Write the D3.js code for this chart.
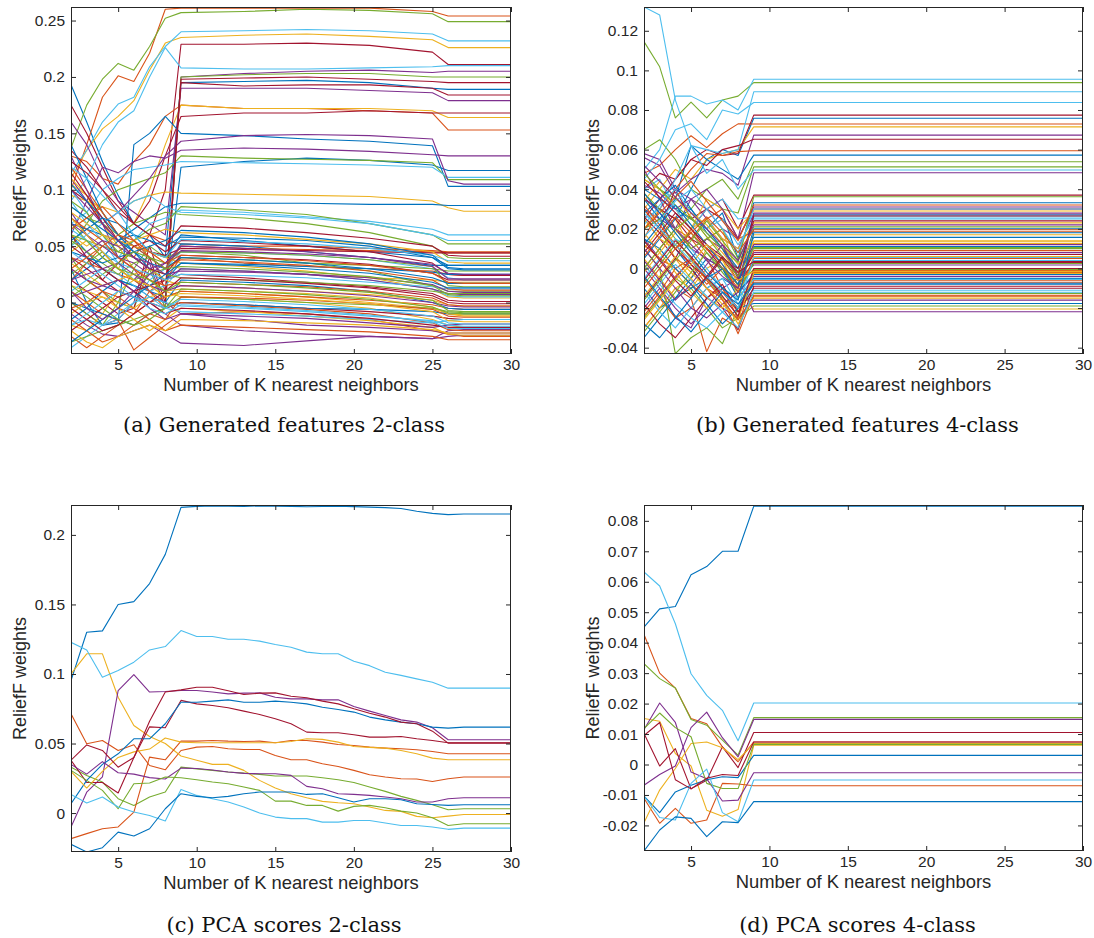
<!DOCTYPE html>
<html>
<head>
<meta charset="utf-8">
<script src="https://cdn.jsdelivr.net/npm/d3@7"></script>
<style>
  html, body { margin: 0; padding: 0; background: #fff; }
  svg { display: block; }
</style>
</head>
<body>
<svg id="fig" width="1094" height="938"></svg>
<script>
(function () {
    "use strict";

    // K values (x) for each panel; weights are stored x1000
    const kA = [2, 3, 4, 5, 6, 7, 8, 9, 13, 17, 21, 25, 26, 27, 30];
    const kB = [2, 3, 4, 5, 6, 7, 8, 9, 30];
    const kC = [2, 3, 4, 5, 6, 7, 8, 9, 10, 11, 12, 13, 14, 15, 16, 17, 18, 19, 20, 21, 22, 23, 24, 25, 26, 27, 28, 29, 30];
    const kD = [2, 3, 4, 5, 6, 7, 8, 9, 30];

    const kTicks = [5, 10, 15, 20, 25, 30];
    const yTicksA = [0, 0.05, 0.1, 0.15, 0.2, 0.25];
    const yTicksB = [-0.04, -0.02, 0, 0.02, 0.04, 0.06, 0.08, 0.1, 0.12];
    const yTicksC = [0, 0.05, 0.1, 0.15, 0.2];
    const yTicksD = [-0.02, -0.01, 0, 0.01, 0.02, 0.03, 0.04, 0.05, 0.06, 0.07, 0.08];

    const captions = [
        "(a) Generated features 2-class",
        "(b) Generated features 4-class",
        "(c) PCA scores 2-class",
        "(d) PCA scores 4-class"
    ];

    // (a) generated features, 2-class
    const weightsA = [
        [193, 160, 125, 95, 70, 60, 40, 195, 196, 197, 195, 190, 189, 189, 189],
        [100, 140, 182, 201, 196, 221, 260, 261, 261, 261, 261, 258, 254, 254, 254],
        [110, 135, 154, 165, 179, 206, 230, 235, 237, 238, 236, 233, 226, 226, 226],
        [80, 60, 45, 30, 20, 35, -5, 200, 203, 205, 206, 204, 205, 205, 205],
        [137, 175, 198, 212, 206, 227, 252, 257, 258, 260, 259, 256, 249, 249, 249],
        [115, 135, 160, 176, 182, 209, 227, 240, 241, 242, 241, 238, 232, 232, 232],
        [175, 150, 120, 90, 70, 60, 100, 229, 229, 230, 228, 222, 211, 211, 211],
        [60, 45, 30, 20, 15, 10, 5, 120, 125, 128, 126, 122, 117, 117, 117],
        [130, 125, 110, 105, 125, 140, 165, 175, 172, 172, 170, 168, 153, 153, 153],
        [105, 95, 80, 60, 70, 100, 140, 175, 172, 172, 172, 170, 164, 164, 164],
        [160, 140, 110, 90, 80, 70, 60, 190, 190, 190, 188, 186, 179, 179, 179],
        [40, 20, 10, 0, -5, 30, -5, 200, 202, 203, 203, 200, 200, 200, 200],
        [90, 110, 140, 160, 170, 200, 226, 208, 207, 207, 208, 209, 210, 210, 210],
        [135, 120, 100, 80, 70, 90, 130, 165, 168, 168, 170, 168, 168, 168, 168],
        [30, 0, -20, -18, 140, 150, 165, 150, 148, 145, 143, 139, 103, 103, 103],
        [20, 35, 50, 45, 40, 60, 55, 52, 50, 50, 48, 46, 45, 45, 45],
        [95, 90, 85, 80, 90, 95, 98, 97, 96, 95, 94, 90, 84, 81, 81],
        [60, 90, 120, 115, 125, 130, 128, 135, 137, 136, 134, 131, 130, 130, 130],
        [50, 70, 90, 100, 105, 110, 115, 130, 128, 127, 126, 124, 109, 109, 109],
        [70, 80, 100, 110, 118, 120, 122, 125, 124, 123, 122, 120, 111, 111, 111],
        [20, 10, 0, -10, -5, 40, 0, 195, 192, 193, 193, 190, 184, 184, 184],
        [70, 65, 60, 55, 65, 75, 85, 88, 88, 88, 87, 87, 86, 86, 86],
        [30, 20, 10, -5, -10, 10, 20, 40, 35, 32, 30, 28, 25, 24, 24],
        [45, 55, 40, 30, 50, 45, 35, 30, 28, 25, 22, 20, 18, 18, 18],
        [110, 90, 70, 80, 95, 110, 130, 143, 148, 149, 148, 145, 108, 105, 105],
        [85, 75, 70, 60, 70, 75, 80, 78, 75, 70, 62, 50, 40, 39, 39],
        [100, 80, 60, 40, 55, 70, 75, 82, 80, 76, 72, 65, 60, 60, 60],
        [0, -10, -20, -15, 0, 50, 10, 198, 199, 200, 198, 196, 195, 195, 195],
        [140, 110, 80, 60, 50, 40, 30, 52, 50, 45, 40, 33, 33, 33, 33],
        [10, 0, -10, -16, -42, -31, -20, -10, -8, -10, -15, -25, -28, -30, -30],
        [110, 95, 70, 50, 30, 20, 10, 5, 3, 0, -5, -15, -20, -22, -22],
        [-10, -20, -28, -30, -25, -20, -28, -36, -38, -34, -30, -32, -25, -24, -24],
        [0, -10, -20, 0, 30, 50, 40, 45, 42, 35, 28, 15, 10, 10, 10],
        [-40, -30, -20, -15, 0, 20, 30, 45, 44, 42, 38, 30, 22, 20, 20],
        [60, 40, 20, 10, 5, 0, -5, 0, -2, -5, -8, -12, -14, -15, -15],
        [20, 30, 40, 55, 60, 45, 40, 60, 55, 50, 45, 40, 33, 33, 33],
        [120, 100, 80, 60, 50, 40, 30, 50, 48, 47, 46, 45, 44, 44, 44],
        [-20, -25, -10, 10, 20, 15, 5, 10, 8, 5, 0, -5, -10, -12, -12],
        [130, 100, 70, 40, 30, 10, 0, -10, -15, -20, -22, -25, -27, -27, -27],
        [70, 55, 50, 45, 55, 65, 70, 85, 82, 78, 70, 60, 52, 52, 52],
        [50, 60, 70, 80, 90, 95, 85, 80, 78, 75, 70, 60, 55, 55, 55],
        [100, 90, 70, 55, 50, 45, 42, 48, 47, 46, 45, 44, 44, 44, 44],
        [0, -5, -10, -15, -20, -10, -5, 0, -2, -5, -6, -8, -10, -10, -10],
        [-30, -40, -30, -20, -10, 0, 5, 10, 8, 5, 2, -2, -5, -6, -6],
        [60, 50, 60, 55, 50, 45, 40, 35, 32, 28, 22, 12, 5, 4, 4],
        [30, 20, 15, 10, 5, 0, -10, -20, -25, -28, -30, -32, -30, -29, -29],
        [-35, -30, -25, -20, -15, -10, -5, 5, 3, 0, -2, -5, -8, -9, -9],
        [90, 70, 55, 35, 20, 10, 15, 30, 28, 25, 20, 12, 6, 5, 5],
        [40, 30, 20, 35, 50, 55, 45, 55, 53, 50, 45, 35, 25, 24, 24],
        [-15, -5, 10, 20, 15, 5, 0, 20, 18, 15, 10, 0, -5, -6, -6],
        [40, 35, 30, 25, 20, 10, -5, 0, -3, -6, -10, -18, -24, -25, -25],
        [15, 10, 5, -5, -15, -25, -15, -5, -8, -12, -16, -22, -28, -29, -29],
        [70, 60, 50, 40, 35, 25, 20, 30, 28, 25, 20, 12, 8, 7, 7],
        [25, 35, 45, 30, 20, 25, 30, 40, 38, 35, 33, 30, 28, 28, 28],
        [10, 20, 30, 25, 15, 5, -5, -8, -10, -12, -15, -18, -16, -15, -15],
        [50, 40, 30, 20, 10, 15, 20, 25, 22, 18, 14, 8, 2, 1, 1],
        [105, 90, 75, 60, 45, 30, 20, 35, 34, 32, 30, 27, 25, 25, 25],
        [-5, 0, 10, 5, -5, -15, -25, -20, -22, -24, -26, -30, -33, -33, -33],
        [35, 25, 15, 20, 25, 30, 20, 15, 13, 10, 7, 2, -2, -3, -3],
        [5, 10, 15, 20, 10, -5, -15, -10, -12, -14, -18, -22, -20, -19, -19],
        [55, 45, 35, 25, 35, 40, 35, 45, 44, 42, 38, 32, 15, 14, 14],
        [65, 55, 45, 35, 30, 25, 20, 25, 24, 22, 18, 14, 12, 12, 12],
        [-25, -15, -5, 5, 10, 0, -10, -5, -7, -10, -14, -20, -22, -22, -22],
        [45, 40, 35, 40, 45, 35, 30, 40, 38, 35, 30, 22, 17, 17, 17],
        [75, 65, 55, 40, 30, 20, 15, 18, 16, 14, 10, 4, -2, -3, -3],
        [-10, 0, 5, 0, -5, 5, 10, 12, 10, 8, 4, -4, -10, -11, -11],
        [20, 25, 30, 35, 25, 15, 10, 15, 13, 10, 6, 0, -3, -4, -4],
        [90, 80, 60, 45, 40, 30, 25, 22, 20, 18, 15, 10, 8, 8, 8],
        [-20, -15, -20, -10, 0, 5, 0, -3, -5, -8, -12, -16, -20, -21, -21],
        [115, 95, 75, 55, 40, 30, 25, 42, 40, 38, 34, 26, 20, 20, 20],
        [55, 65, 75, 70, 60, 55, 50, 58, 57, 55, 50, 40, 30, 29, 29],
        [-15, -25, -35, -30, -20, -10, -15, 5, 4, 2, -1, -6, -12, -13, -13],
        [80, 70, 60, 50, 55, 60, 65, 62, 60, 56, 52, 45, 36, 35, 35],
        [35, 45, 55, 50, 40, 35, 25, 28, 27, 25, 22, 16, 10, 9, 9],
        [15, 5, -5, -15, -20, -15, -5, 12, 10, 7, 3, -4, -9, -10, -10],
        [120, 110, 95, 80, 60, 45, 40, 56, 54, 52, 48, 42, 37, 37, 37],
        [-5, -15, -25, -20, -10, 0, 10, 22, 20, 17, 13, 6, 0, -1, -1],
        [85, 75, 65, 55, 45, 50, 55, 64, 62, 58, 52, 42, 31, 30, 30],
        [65, 75, 85, 70, 55, 40, 30, 38, 36, 33, 28, 20, 12, 11, 11],
        [-25, -35, -40, -30, -25, -20, -25, -15, -16, -18, -20, -24, -27, -27, -27],
        [100, 85, 70, 55, 40, 30, 35, 46, 45, 43, 40, 34, 26, 25, 25],
        [5, 15, 25, 35, 45, 40, 30, 32, 30, 27, 23, 15, 7, 6, 6],
        [45, 35, 25, 15, 5, -5, -10, -2, -4, -7, -11, -17, -23, -23, -23],
        [125, 115, 100, 85, 70, 60, 50, 68, 66, 62, 57, 50, 42, 41, 41],
        [-35, -25, -15, -5, 5, 15, 25, 35, 33, 30, 26, 18, 13, 13, 13],
        [30, 40, 50, 60, 55, 45, 35, 42, 40, 37, 33, 26, 18, 17, 17],
        [75, 60, 45, 30, 20, 15, 5, 8, 6, 3, -1, -8, -16, -17, -17],
        [10, -5, -15, -5, 10, 25, 35, 50, 48, 45, 40, 32, 21, 21, 21],
        [60, 55, 40, 30, 25, 20, 10, 18, 16, 13, 9, 2, -7, -8, -8],
        [-20, -10, 0, 10, 5, 0, -5, 3, 1, -2, -6, -12, -18, -19, -19]
    ];

    // (b) generated features, 4-class
    const weightsB = [
        [35, 30, 25, 40, 55, 60, 57, 75.8, 75.8],
        [48, 52, 60, 67, 61, 68, 73, 72.9, 72.9],
        [30, 40, 50, 45, 55, 58, 60, 71.5, 71.5],
        [56, 52, 38, 45, 50, 48, 42, 67.3, 67.3],
        [114.5, 101.8, 76, 84, 76, 85, 87, 93.8, 93.8],
        [50, 60, 87, 87, 83, 85, 80, 95.5, 95.5],
        [40, 48, 45, 55, 60, 57, 58, 77.4, 77.4],
        [20, 25, 35, 62, 55, 50, 45, 57.2, 57.2],
        [15, 30, 40, 50, 58, 57, 59, 59.4, 59.4],
        [10, 20, 5, -5, 10, 15, -10, 12.6, 12.6],
        [58, 55, 40, 35, 30, 20, 15, 48.3, 48.3],
        [45, 40, 35, 30, 40, 45, 35, 53.9, 53.9],
        [132, 128, 85, 62, 60, 58, 60, 89.2, 89.2],
        [25, 35, 45, 55, 52, 60, 62, 65.2, 65.2],
        [40, 35, 30, 25, 20, 28, 5, 33.2, 33.2],
        [-30, -20, -10, -15, -42, -25, -30, -2, -2],
        [5, -5, -15, -10, 0, 5, -15, 6, 6],
        [30, 25, 20, 35, 25, 15, 10, 27.5, 27.5],
        [60, 65, 55, 40, 35, 30, 28, 51.3, 51.3],
        [45, 55, 70, 73, 65, 80, 78, 83.8, 83.8],
        [30, 20, 40, 25, 30, 35, 20, 37, 37],
        [-10, -20, -15, -5, 5, 0, -15, -5, -5],
        [0, 10, 20, 15, 5, -10, -20, -7, -7],
        [20, 30, 25, 10, 15, 20, -5, 14, 14],
        [-20, -10, -25, -30, -15, -20, -25, -16, -16],
        [10, 0, -43, -35, -30, -38, -20, -12.6, -12.6],
        [25, 30, 45, 62, 48, 55, 40, 49.7, 49.7],
        [25, 15, 5, 20, 30, 25, 15, 30, 30],
        [35, 25, 10, 0, -10, -5, -10, 11, 11],
        [-5, -15, -25, -20, -10, -15, -33, -13.5, -13.5],
        [45, 40, 30, 20, 25, 15, 10, 23, 23],
        [15, 5, -5, 5, 15, 10, -5, 8, 8],
        [-25, -15, -5, -10, -20, -30, -25, -19, -19],
        [40, 45, 30, 20, 30, 35, 25, 26, 26],
        [-15, -5, 5, 0, -10, -20, -31, -9, -9],
        [5, 15, 25, 30, 20, 10, 0, 15.7, 15.7],
        [30, 20, 10, 15, 25, 30, 15, 18.5, 18.5],
        [-30, -20, -10, -5, -15, -20, -10, -20.5, -20.5],
        [50, 35, 20, 10, 5, 0, -5, 1.7, 1.7],
        [20, 25, 15, 5, -5, -15, -20, -3, -3],
        [-5, 5, 15, 10, 0, -10, -15, 4, 4],
        [35, 30, 25, 15, 10, 5, 0, 24, 24],
        [-35, -25, -15, -10, -5, -12, -20, -17.7, -17.7],
        [12, 5, 0, -8, -15, -10, -25, -1, -1],
        [25, 15, 10, 20, 35, 30, 20, 29, 29],
        [0, -10, -20, -28, -20, -10, -5, -21.9, -21.9],
        [38, 30, 20, 10, 15, 20, 5, 10, 10],
        [-12, -22, -30, -20, -10, -5, -18, -11, -11],
        [8, 18, 28, 20, 10, 0, -8, 3, 3],
        [28, 35, 42, 30, 18, 10, -2, 27, 27],
        [-22, -12, 0, 5, -5, -12, -22, -6, -6],
        [18, 8, -2, -12, -20, -15, -28, -15, -15],
        [42, 38, 30, 35, 40, 30, 15, 31, 31],
        [-8, 2, 12, 18, 8, -2, -12, 2.5, 2.5],
        [22, 32, 40, 28, 20, 25, 12, 25, 25],
        [-18, -28, -35, -25, -15, -8, -22, -10, -10],
        [15, 10, 0, -8, -18, -28, -20, -8, -8],
        [32, 22, 12, 2, -8, 0, -10, 9, 9],
        [-2, 8, 18, 28, 22, 12, 2, 13.5, 13.5],
        [10, 0, -10, -20, -25, -18, -12, -4, -4],
        [48, 40, 32, 25, 18, 10, 3, 36.2, 36.2],
        [2, -8, -18, -25, -30, -22, -15, -5.5, -5.5],
        [26, 18, 10, 2, -5, 5, -6, 7, 7],
        [-28, -35, -25, -15, -5, 0, -12, -3, -3],
        [6, 16, 26, 18, 10, 2, -12, 5, 5],
        [-14, -4, 6, -2, -10, -18, -26, -2.5, -2.5],
        [36, 28, 20, 12, 4, -4, -10, 28, 28],
        [-32, -22, -12, -2, 8, 0, -8, -0.5, -0.5],
        [16, 24, 34, 40, 30, 20, 8, 30, 30],
        [-6, 4, 14, 6, -4, -14, -24, 0, 0],
        [12, 22, 32, 22, 12, 2, -8, 20, 20],
        [-24, -14, -4, 4, -6, -16, -26, -14, -14],
        [34, 44, 36, 26, 16, 8, -2, 17, 17],
        [4, -6, -16, -8, 2, 12, -4, 12, 12],
        [-16, -6, 4, 14, 24, 14, 4, 21, 21],
        [28, 20, 12, 4, -4, -12, -20, 5.5, 5.5],
        [44, 36, 28, 20, 12, 6, -4, 26.5, 26.5],
        [-4, -14, -24, -32, -22, -12, -18, -7.5, -7.5],
        [20, 28, 36, 44, 34, 24, 14, 32, 32],
        [-26, -16, -6, 2, 12, 4, -6, -1.5, -1.5],
        [52, 44, 36, 28, 20, 12, 4, 22, 22],
        [0, 10, 20, 26, 16, 6, -4, 10.5, 10.5],
        [-18, -8, 2, -6, -14, -22, -30, -12, -12],
        [14, 4, -6, -14, -4, 6, -2, 3.5, 3.5],
        [38, 28, 18, 8, -2, -10, -16, 18, 18],
        [-10, 0, 10, 18, 26, 18, 8, 19.5, 19.5]
    ];

    // (c) PCA scores, 2-class
    const weightsC = [
        [95.3, 130, 131, 150, 152, 165, 186, 219.8, 220.5, 220.8, 220.6, 220.5, 220.8, 220.7, 220.5, 220.2, 220.4, 220.6, 220.3, 220, 219.6, 219, 217, 215.5, 214.6, 215, 215, 215, 215],
        [71.4, 49.8, 52.2, 45, 49.1, 34.2, 31.1, 45, 47.4, 47.9, 46.2, 45.7, 45.7, 41.4, 38.3, 38.3, 35.4, 33.5, 30.7, 27.5, 25.9, 24.7, 24.5, 22.7, 24.7, 25.9, 25.9, 25.9, 25.9],
        [100.1, 114.5, 114.5, 83.3, 63, 55, 50, 41, 38, 35, 35, 30.7, 23.5, 18, 13.9, 11, 8.4, 7.4, 6.7, 4.3, 1.9, 1.2, -2.4, -3.4, -2.2, -1, -1, -1, -1],
        [-10, 15, 26, 88, 99.6, 87, 87.4, 88.1, 88.1, 87, 85.7, 86.2, 86.4, 83.3, 82.1, 82.1, 81.4, 81.4, 76.6, 73.3, 70.2, 67, 65.4, 61.3, 52.7, 52.7, 52.7, 52.7, 52.7],
        [33, 27, 22.3, 10.3, 5.5, 11.5, 15.1, 33, 31.8, 30.7, 29.5, 28.7, 27.8, 26.6, 26.6, 26.6, 25.4, 24, 22, 18.7, 15.6, 12, 9.1, 6, 2.4, 3.1, 3.1, 3.1, 3.1],
        [122.8, 117.3, 97.7, 102.5, 108.5, 117.3, 119.7, 131.2, 127, 127, 125, 125, 123.6, 121.2, 119.2, 115.7, 114.5, 114.5, 109.2, 106, 101.3, 99, 96.5, 94.1, 89.8, 89.8, 89.8, 89.8, 89.8],
        [38, 22, 22, 14.4, 40, 62, 61.3, 81, 78.5, 77.3, 75.7, 73.3, 70.9, 67.8, 64.2, 58.2, 57.7, 57.7, 56.3, 54.6, 54.6, 55, 53.4, 52.2, 50.5, 50.5, 50.5, 50.5, 50.5],
        [6.7, 23.5, 35, 42.6, 53.4, 53.4, 64.2, 79.7, 79.7, 80.5, 81.4, 79.7, 79.7, 80.5, 79.7, 78.5, 76.1, 74.5, 72.6, 69, 67, 65.4, 64.2, 61.8, 61.1, 61.8, 61.8, 61.8, 61.8],
        [-18.4, -14.8, -11.3, -10, 0.7, 40.2, 38.3, 51.7, 51.7, 52.2, 51.7, 51.5, 51.7, 50.5, 52.2, 52.2, 51, 49.3, 48.6, 47.4, 46.7, 46.2, 45.5, 44.3, 42.6, 42.6, 42.6, 42.6, 42.6],
        [30, 18, 30, 40, 44, 46, 54, 51, 50.5, 50.5, 50.5, 50.5, 50.5, 50.5, 51.5, 53.4, 53, 51, 47.9, 47.2, 46.7, 45, 42.6, 39.5, 38.3, 38.3, 38.3, 38.3, 38.3],
        [35, 28, 37, 29, 28, 25.5, 24.5, 32.3, 32, 31, 29.5, 28.5, 28.3, 28.3, 27.1, 19.2, 17.5, 13.9, 13.4, 12.7, 11.5, 10.3, 7.9, 7.9, 10.3, 11, 11, 11, 11],
        [30.7, 23.5, 16.3, 3.1, 21.1, 21.6, 25.9, 25.4, 24, 22.3, 21.1, 18.7, 16.3, 8.6, 8.6, 5.5, 5.5, 1.4, 4.8, 5.5, 3.8, 1.4, 0, -3.4, -8.9, -7.7, -7.7, -7.7, -7.7],
        [13.4, 7.2, 11.5, 4.3, 0.7, -1.7, -5.7, 17, 12.7, 10.3, 7.9, 4.3, 0, -2.9, -4, -4, -6.5, -6.5, -5.3, -5.3, -7.2, -8.9, -8.9, -10, -11.7, -10.8, -10.8, -10.8, -10.8],
        [38, 49, 45, 33, 40, 66, 87, 88.6, 90.5, 90.5, 88, 85.2, 86.2, 86.4, 84, 82.9, 80.5, 78.5, 75, 71.8, 69, 65.4, 64.2, 58.9, 50.3, 50.3, 50.3, 50.3, 50.3],
        [-22.5, -28, -24.9, -13.7, -16.5, -11.3, 3.1, 13.9, 12, 11, 12, 13.9, 15.1, 15.1, 15.1, 13.4, 13.9, 11, 7.9, 10.3, 10.3, 9.6, 6.7, 6.2, 5.5, 6, 6, 6, 6]
    ];

    // (d) PCA scores, 4-class
    const weightsD = [
        [45.1, 51.1, 51.9, 62.3, 65, 70, 70, 84.8, 84.8],
        [42.7, 30, 25.1, 15.1, 13.4, 5.8, 0.9, 7.4, 7.4],
        [15.1, 14.2, 3.6, -0.5, -15, -17, -14.8, 6.3, 6.3],
        [11.5, 20.2, 13.8, -2.5, -4.7, -12, -11.7, -2.7, -2.7],
        [33.1, 28.2, 25.1, 14.8, 12.9, 8, 3.1, 15.4, 15.4],
        [63.2, 58.6, 46.2, 29.8, 22.7, 17.8, 7.8, 20.2, 20.2],
        [10.2, -0.5, 5.2, -8, -5.2, 5.8, -1, 10.5, 10.5],
        [-10.4, -15.8, -9, -6.8, -5, -4, -4.3, 3, 3],
        [-11.1, -19.3, -14.4, -19.3, -18.2, -6.2, -6.4, -7, -7],
        [-19.1, -8.4, -1.3, 6.9, 7.4, 5.5, 1.6, 6.9, 6.9],
        [-6.8, -3.3, -0.5, 12.1, 17.2, 8.8, 2.5, 14.8, 14.8],
        [11.8, 16.9, 12.1, 9.1, -6.2, -7.9, -7.9, 6.6, 6.6],
        [-10.4, -17.4, -18.2, -6.2, -1.5, -15.8, -18.8, -5.1, -5.1],
        [9.5, 13.8, -5, -8, -4.5, -3.3, -3.6, 7.4, 7.4],
        [-28.4, -21.5, -17.2, -17.7, -23.7, -18.8, -19.1, -12.2, -12.2]
    ];

    const lineColors = ["#0072BD", "#D95319", "#EDB120", "#7E2F8E", "#77AC30", "#4DBEEE", "#A2142F"];
    const axisColor = "#262626";
    const sansFont = "'Liberation Sans', Arial, Helvetica, sans-serif";

    const panels = [
        { left: 71, right: 511, top: 7, bottom: 354, yDomain: [-0.0456, 0.262], k: kA, weights: weightsA, yTicks: yTicksA, caption: captions[0], captionY: 432 },
        { left: 644, right: 1083, top: 7, bottom: 354, yDomain: [-0.0432, 0.132], k: kB, weights: weightsB, yTicks: yTicksB, caption: captions[1], captionY: 432 },
        { left: 71, right: 511, top: 505, bottom: 852, yDomain: [-0.028, 0.2215], k: kC, weights: weightsC, yTicks: yTicksC, caption: captions[2], captionY: 932 },
        { left: 644, right: 1083, top: 505, bottom: 851, yDomain: [-0.0284, 0.0852], k: kD, weights: weightsD, yTicks: yTicksD, caption: captions[3], captionY: 932 }
    ];

    const svg = d3.select("#fig");
    svg.append("rect").attr("width", 1094).attr("height", 938).attr("fill", "#fff");

    const tickFormat = (d) => String(+d.toFixed(4));

    panels.forEach((p, pi) => {
        const x = d3.scaleLinear().domain([2, 30]).range([p.left, p.right]);
        const y = d3.scaleLinear().domain(p.yDomain).range([p.bottom, p.top]);
        const color = (i) => lineColors[i % lineColors.length];

        const clipId = `clip-${pi}`;
        svg.append("clipPath").attr("id", clipId)
            .append("rect")
            .attr("x", p.left).attr("y", p.top)
            .attr("width", p.right - p.left).attr("height", p.bottom - p.top);

        const line = d3.line()
            .x((d) => x(d[0]))
            .y((d) => y(d[1] / 1000));

        svg.append("g")
            .attr("clip-path", `url(#${clipId})`)
            .selectAll("path")
            .data(p.weights)
            .join("path")
            .attr("fill", "none")
            .attr("stroke", (d, i) => color(i))
            .attr("stroke-width", 1.1)
            .attr("stroke-linejoin", "round")
            .attr("d", (vals) => line(vals.map((v, j) => [p.k[j], v])));

        // axes with inward ticks, MATLAB box style
        const gx = svg.append("g")
            .attr("transform", `translate(0,${p.bottom})`)
            .call(d3.axisBottom(x).tickValues(kTicks).tickSizeInner(-5).tickSizeOuter(0).tickPadding(5).tickFormat(tickFormat));
        const gxTop = svg.append("g")
            .attr("transform", `translate(0,${p.top})`)
            .call(d3.axisTop(x).tickValues(kTicks).tickSizeInner(-5).tickSizeOuter(0).tickFormat(""));
        const gy = svg.append("g")
            .attr("transform", `translate(${p.left},0)`)
            .call(d3.axisLeft(y).tickValues(p.yTicks).tickSizeInner(-5).tickSizeOuter(0).tickPadding(6).tickFormat(tickFormat));
        const gyRight = svg.append("g")
            .attr("transform", `translate(${p.right},0)`)
            .call(d3.axisRight(y).tickValues(p.yTicks).tickSizeInner(-5).tickSizeOuter(0).tickFormat(""));

        [gx, gxTop, gy, gyRight].forEach((g) => {
            g.select(".domain").remove();
            g.selectAll("line").attr("stroke", axisColor).attr("stroke-width", 1);
            g.selectAll("text")
                .attr("fill", axisColor)
                .style("font-family", sansFont)
                .style("font-size", "15.5px");
        });

        svg.append("rect")
            .attr("x", p.left + 0.5).attr("y", p.top + 0.5)
            .attr("width", p.right - p.left - 1).attr("height", p.bottom - p.top - 1)
            .attr("fill", "none")
            .attr("stroke", axisColor)
            .attr("stroke-width", 1);

        const cx = (p.left + p.right) / 2;
        const cy = (p.top + p.bottom) / 2;

        svg.append("text")
            .attr("x", cx)
            .attr("y", p.bottom + 37)
            .attr("text-anchor", "middle")
            .attr("fill", axisColor)
            .style("font-family", sansFont)
            .style("font-size", "18.4px")
            .text("Number of K nearest neighbors");

        svg.append("text")
            .attr("transform", `translate(${p.left - 45},${cy}) rotate(-90)`)
            .attr("text-anchor", "middle")
            .attr("fill", axisColor)
            .style("font-family", sansFont)
            .style("font-size", "18px")
            .text("ReliefF weights");

        svg.append("text")
            .attr("x", pi % 2 === 0 ? 284 : 857.5)
            .attr("y", p.captionY)
            .attr("text-anchor", "middle")
            .attr("fill", "#111")
            .style("font-family", "'DejaVu Serif', 'Liberation Serif', serif")
            .style("font-size", "21px")
            .text(p.caption);
    });
})();
</script>
</body>
</html>
